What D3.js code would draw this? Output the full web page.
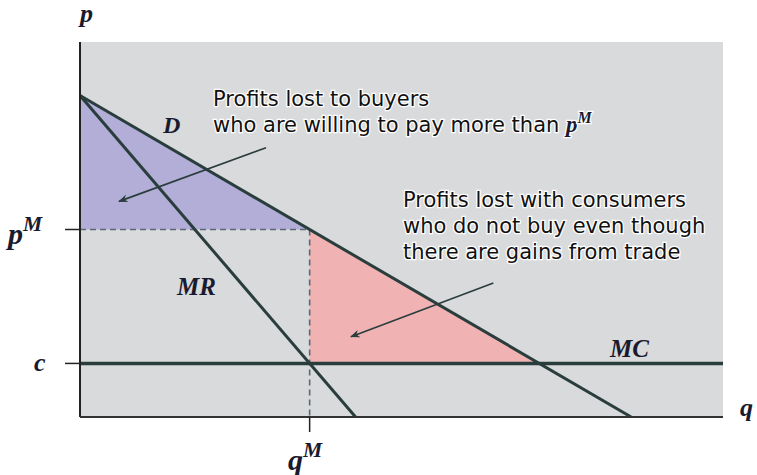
<!DOCTYPE html>
<html>
<head>
<meta charset="utf-8">
<script src="https://cdn.jsdelivr.net/npm/d3@7"></script>
<style>
  body { margin: 0; background: #fff; }
  .note { font-family: "DejaVu Sans", sans-serif; font-size: 21px; fill: #111; }
  .math { font-family: "Liberation Serif", "DejaVu Serif", serif; font-style: italic; font-weight: bold; fill: #1a1a2e; }
</style>
</head>
<body>
<div id="chart"></div>
<script>
// linear demand p = 24 - q, marginal revenue p = 24 - 2q, constant cost c = 4
const demand = [[0, 24], [24, 0]];
const marginalRevenue = [[0, 24], [12, 0]];
const marginalCost = [[0, 4], [28, 4]];
const qM = 10, pM = 14, c = 4;
const buyersArea = [[0, 24], [qM, pM], [0, pM]];
const deadweightArea = [[qM, pM], [20, c], [qM, c]];
const qDomain = [0, 28], pDomain = [0, 28];

const W = 757, H = 475;
const svg = d3.select("#chart").append("svg")
    .attr("width", W).attr("height", H);

const x = d3.scaleLinear().domain(qDomain).range([80, 723]);
const y = d3.scaleLinear().domain(pDomain).range([417, 42]);
const line = d3.line().x(d => x(d[0])).y(d => y(d[1]));

const ink = "#2a3d3d";

// plot background
svg.append("rect")
    .attr("x", x(0)).attr("y", y(pDomain[1]))
    .attr("width", x(qDomain[1]) - x(0))
    .attr("height", y(0) - y(pDomain[1]))
    .attr("fill", "#d9dadc");

// shaded areas
svg.append("path").attr("d", line(buyersArea) + "Z").attr("fill", "#b2aed8");
svg.append("path").attr("d", line(deadweightArea) + "Z").attr("fill", "#f0b2b3");

// dashed guides
svg.append("path").attr("d", line([[0, pM], [qM, pM]]))
    .attr("stroke", "#5b6878").attr("stroke-width", 1.6).attr("stroke-dasharray", "6,4").attr("fill", "none");
svg.append("path").attr("d", line([[qM, pM], [qM, 0]]))
    .attr("stroke", "#5b6878").attr("stroke-width", 1.6).attr("stroke-dasharray", "6,4").attr("fill", "none");

// curves
svg.append("path").attr("d", line(marginalCost))
    .attr("stroke", ink).attr("stroke-width", 3.5).attr("fill", "none");
svg.append("path").attr("d", line(demand))
    .attr("stroke", ink).attr("stroke-width", 3).attr("fill", "none");
svg.append("path").attr("d", line(marginalRevenue))
    .attr("stroke", ink).attr("stroke-width", 3).attr("fill", "none");

// axes
svg.append("line").attr("x1", x(0)).attr("x2", x(0)).attr("y1", y(pDomain[1])).attr("y2", y(0))
    .attr("stroke", "#222").attr("stroke-width", 2);
svg.append("line").attr("x1", x(0)).attr("x2", x(qDomain[1])).attr("y1", y(0)).attr("y2", y(0))
    .attr("stroke", "#333").attr("stroke-width", 2);

// ticks
[pM, c].forEach(v => {
  svg.append("line").attr("x1", x(0) - 15).attr("x2", x(0)).attr("y1", y(v)).attr("y2", y(v))
     .attr("stroke", "#222").attr("stroke-width", 1.5);
});
svg.append("line").attr("x1", x(qM)).attr("x2", x(qM)).attr("y1", y(0)).attr("y2", y(0) + 15)
    .attr("stroke", "#222").attr("stroke-width", 1.5);

// math labels
const mathLabel = (tx, ty, base, sup, size) => {
  const t = svg.append("text").attr("class", "math").attr("x", tx).attr("y", ty)
      .attr("font-size", size);
  t.append("tspan").text(base);
  if (sup) t.append("tspan").attr("dy", -size * 0.45).attr("font-size", size * 0.72).text(sup);
};
mathLabel(80, 22, "p", null, 26);
mathLabel(740, 416, "q", null, 26);
mathLabel(8, 244, "p", "M", 30);
mathLabel(34, 371, "c", null, 26);
mathLabel(288, 470, "q", "M", 30);
mathLabel(163, 133, "D", null, 24);
mathLabel(177, 295, "MR", null, 25);
mathLabel(610, 357, "MC", null, 25);

// annotations
svg.append("defs").append("marker")
    .attr("id", "arrow").attr("viewBox", "0 0 10 10").attr("refX", 9).attr("refY", 5)
    .attr("markerWidth", 6).attr("markerHeight", 6).attr("orient", "auto")
  .append("path").attr("d", "M0,1 L10,5 L0,9 L3,5 Z").attr("fill", ink);

const note = (tx, ty, lines) => {
  const t = svg.append("text").attr("class", "note").attr("x", tx).attr("y", ty)
      .attr("stroke", "#fff").attr("stroke-width", 2.5).attr("paint-order", "stroke");
  lines.forEach((l, i) => {
    const s = t.append("tspan").attr("x", tx).attr("dy", i ? 26 : 0);
    s.append("tspan").text(l[0]);
    if (l[1]) s.append("tspan").attr("class", "math").attr("font-size", 23).attr("font-style", "italic")
        .attr("font-family", "Liberation Serif, serif").text(l[1])
      .append("tspan").attr("dy", -9).attr("font-size", 16).text("M");
  });
};
note(213, 106, [["Profits lost to buyers"], ["who are willing to pay more than ", "p"]]);
note(403, 207, [["Profits lost with consumers"], ["who do not buy even though"], ["there are gains from trade"]]);

const arrows = [
  [[8.1, 20.1], [1.7, 16.1]],
  [[18.0, 10.0], [11.8, 6.0]]
];
arrows.forEach(a => {
  svg.append("path").attr("d", line(a))
     .attr("stroke", ink).attr("stroke-width", 1.6).attr("fill", "none")
     .attr("marker-end", "url(#arrow)");
});
</script>
</body>
</html>
